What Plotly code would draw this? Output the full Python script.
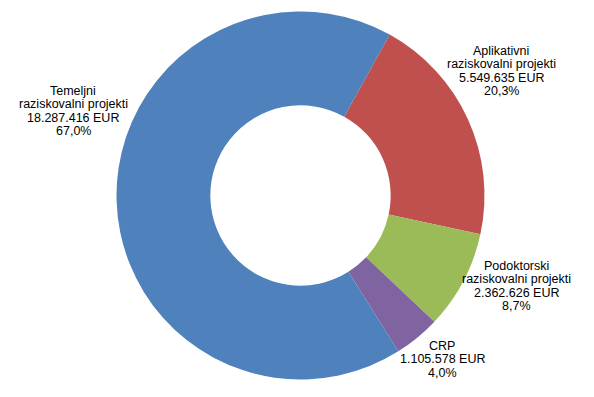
import plotly.graph_objects as go

# Data (order: clockwise starting from the blue/red boundary)
categories = [["Aplikativni", "raziskovalni projekti"],
              ["Podoktorski", "raziskovalni projekti"],
              ["CRP"],
              ["Temeljni", "raziskovalni projekti"]]
values_eur = [5549635, 2362626, 1105578, 18287416]
colors = ["#C0504D", "#9BBB59", "#8064A2", "#4F81BD"]

# label block centres (pixels in the 594x397 window)
label_pos_px = [(501, 71), (516, 286), (442, 359), (73, 111)]
LINE_H = 13.5

W, H = 594, 397
OFF = 8  # page body margin offset of the plot div
total = sum(values_eur)

def fmt_eur(v):
    return f"{v:,}".replace(",", ".") + " EUR"

def fmt_pct(v):
    return f"{v / total * 100:.1f}".replace(".", ",") + "%"

cx, cy, r = 300.5 - OFF, 195.5 - OFF, 184

fig = go.Figure(go.Pie(
    labels=[" ".join(c) for c in categories],
    values=values_eur,
    sort=False,
    direction="clockwise",
    rotation=29,
    hole=0.49,
    marker=dict(colors=colors, line=dict(width=0)),
    textinfo="none",
    showlegend=False,
    domain=dict(x=[(cx - r) / W, (cx + r) / W],
                y=[(H - cy - r) / H, (H - cy + r) / H]),
))

for cat, v, (px, py) in zip(categories, values_eur, label_pos_px):
    lines = list(cat) + [fmt_eur(v), fmt_pct(v)]
    n = len(lines)
    for i, line in enumerate(lines):
        ly = py + (i - (n - 1) / 2) * LINE_H
        fig.add_annotation(
            x=(px - OFF) / W, y=1 - (ly - OFF) / H, xref="paper", yref="paper",
            text=line, showarrow=False, align="center",
            xanchor="center", yanchor="middle",
            font=dict(family="Liberation Sans, Arial, sans-serif", size=12.5, color="#000000"),
        )

fig.update_layout(
    width=W, height=H,
    margin=dict(l=0, r=0, t=0, b=0),
    paper_bgcolor="white",
    plot_bgcolor="white",
)

fig.write_html("out.html")
